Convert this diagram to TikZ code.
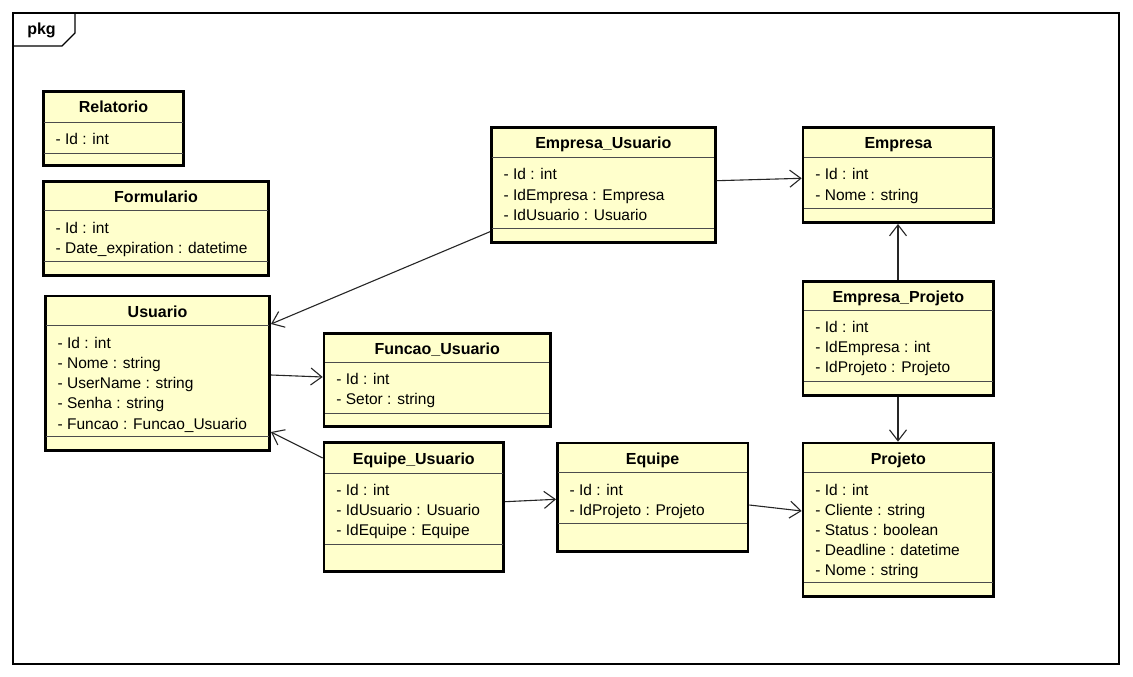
\documentclass[tikz,border=0pt]{standalone}
\usepackage{fontspec}
\setmainfont{Liberation Sans}
\usetikzlibrary{arrows.meta}
\definecolor{classfill}{HTML}{FFFFCC}
\tikzset{
  classbox/.style={draw=black, fill=classfill, line width=2.6pt, inner sep=0pt},
  sepline/.style={draw=black!70, line width=0.9pt},
  titletext/.style={font=\bfseries\fontsize{16}{18}\selectfont, anchor=base, inner sep=0pt},
  attrtext/.style={font=\fontsize{15.5}{18}\selectfont, anchor=base west, inner sep=0pt},
  assoc/.style={draw=black!85, line width=1.1pt, -{Straight Barb[length=11pt,width=17pt]}},
  framebox/.style={draw=black, line width=1.2pt}
}
% #1 name, #2 x1, #3 y1, #4 x2, #5 y2, #6 title separator, #7 attribute separator, #8 title, #9 attributes
\newcommand\umlclass[9]{%
  \node[classbox, minimum width={#4-#2-2.6}, minimum height={#5-#3-2.6}] (#1) at ({(#2+#4)/2},{(#3+#5)/2}) {};
  \draw[sepline] ({#2+2.4},#6) -- ({#4-2.4},#6);
  \draw[sepline] ({#2+2.4},#7) -- ({#4-2.4},#7);
  \node[titletext] (#1-t) at ({(#2+#4)/2},{(#3+#6)/2+7}) {#8};
  \foreach \a [count=\i from 0] in {#9} {
    \node[attrtext] (#1-a\i) at ({#2+13.5},{#6+22.5+20.2*\i}) {\a};
  }
}
\begin{document}
\begin{tikzpicture}[x=1pt,y=-1pt]
\useasboundingbox (0,0) rectangle (1133,677);
\fill[white] (0,0) rectangle (1133,677);
% package frame
\draw[framebox] (13,13) rectangle (1119,664);
\draw[framebox] (75,13) -- (75,33) -- (62,46) -- (13,46);
\node[titletext] (pkg) at (41.5,35) {pkg};

\umlclass{rel}{42}{90}{185}{167}{122}{153}{Relatorio}{- Id : int}
\umlclass{form}{42}{180}{270}{277}{210.7}{261.7}{Formulario}{- Id : int, - Date\_expiration : datetime}
\umlclass{us}{44}{294.5}{271}{452}{325.7}{436}{Usuario}{- Id : int, - Nome : string, - UserName : string, - Senha : string, - Funcao : Funcao\_Usuario}
\umlclass{fu}{322.7}{332}{551.7}{428}{362}{413}{Funcao\_Usuario}{- Id : int, - Setor : string}
\umlclass{equ}{322.7}{441}{505}{573}{473}{544}{Equipe\_Usuario}{- Id : int, - IdUsuario : Usuario, - IdEquipe : Equipe}
\umlclass{eu}{490}{126}{716.7}{244}{157.3}{228.3}{Empresa\_Usuario}{- Id : int, - IdEmpresa : Empresa, - IdUsuario : Usuario}
\umlclass{em}{801.7}{126}{995}{224}{157.3}{208.7}{Empresa}{- Id : int, - Nome : string}
\umlclass{ep}{801.7}{280}{995}{397}{310}{381.7}{Empresa\_Projeto}{- Id : int, - IdEmpresa : int, - IdProjeto : Projeto}
\umlclass{eq}{556}{441.7}{749.3}{552.7}{472.7}{523.3}{Equipe}{- Id : int, - IdProjeto : Projeto}
\umlclass{pr}{801.7}{441.7}{995}{598}{472.5}{582.5}{Projeto}{- Id : int, - Cliente : string, - Status : boolean, - Deadline : datetime, - Nome : string}

% associations
\draw[assoc] (eu.east |- 0,180.7) -- (em.west |- 0,178.3);
\draw[assoc] (eu.west |- 0,231.7) -- (us.east |- 0,324);
\draw[assoc] (us.east |- 0,375) -- (fu.west |- 0,377);
\draw[assoc] (equ.west |- 0,458) -- (us.east |- 0,432);
\draw[assoc] (equ.east |- 0,501.7) -- (eq.west |- 0,499.3);
\draw[assoc] (eq.east |- 0,505) -- (pr.west |- 0,511);
\draw[assoc] (ep.north -| 898,0) -- (em.south -| 898,0);
\draw[assoc] (ep.south -| 898,0) -- (pr.north -| 898,0);
\end{tikzpicture}
\end{document}
